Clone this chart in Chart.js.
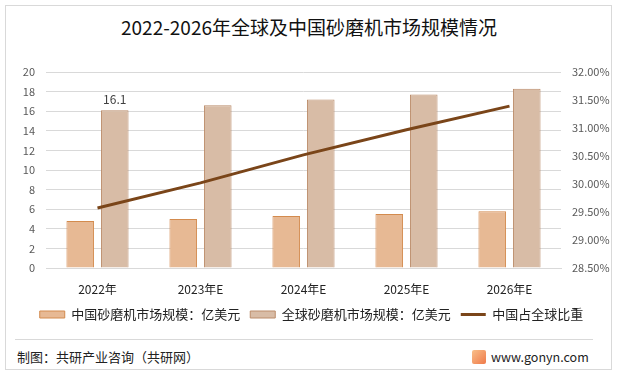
<!DOCTYPE html>
<html>
<head>
<meta charset="utf-8">
<script src="https://cdn.jsdelivr.net/npm/chart.js@4/dist/chart.umd.min.js"></script>
<style>
  body { margin: 0; background: #fff; font-family: "Noto Sans CJK SC", "Noto Sans", sans-serif; }
  #wrap { position: relative; width: 618px; height: 375px; overflow: hidden; }
  #frame { position: absolute; left: 5px; top: 5px; width: 605px; height: 363px; border: 1px solid #d9d9d9; }
  #title { position: absolute; left: 0; width: 618px; top: 13px; text-align: center; font-size: 19px; color: #111; }
  #sep { position: absolute; left: 15px; width: 578px; top: 339px; border-top: 1px solid #d9d9d9; }
  #source { position: absolute; left: 17px; top: 347px; font-size: 13px; color: #222; }
  #site { position: absolute; left: 472px; top: 347px; font-size: 12.5px; color: #222; }
  #logo { display: inline-block; width: 14px; height: 14px; vertical-align: -2px; margin-right: 5px;
          background: linear-gradient(135deg, #f9c08a, #ef7a4a); border-radius: 2px; }
  canvas { position: absolute; left: 0; top: 0; }
</style>
</head>
<body>
<div id="wrap">
  <div id="frame"></div>
  <div id="title">2022-2026年全球及中国砂磨机市场规模情况</div>
  <canvas id="grafico" width="618" height="340"></canvas>
  <div id="sep"></div>
  <div id="source">制图：共研产业咨询（共研网）</div>
  <div id="site"><span id="logo"></span>www.gonyn.com</div>
</div>
<script>
// dados
const anos = ['2022年', '2023年E', '2024年E', '2025年E', '2026年E'];
const mercadoChina = [4.8, 5.0, 5.3, 5.5, 5.8];
const mercadoGlobal = [16.1, 16.6, 17.2, 17.7, 18.3];
const participacao = [29.57, 30.02, 30.52, 30.97, 31.39];
const nomes = ['中国砂磨机市场规模：亿美元', '全球砂磨机市场规模：亿美元', '中国占全球比重'];

const fonte = '"Noto Sans CJK SC", "Noto Sans", sans-serif';

// rotulo so no primeiro bar global
const rotulo = {
    id: 'rotulo',
    afterDatasetsDraw(chart) {
        const ctx = chart.ctx;
        const bar = chart.getDatasetMeta(1).data[0];
        ctx.save();
        ctx.font = '12px ' + fonte;
        ctx.fillStyle = '#404040';
        ctx.textAlign = 'center';
        ctx.textBaseline = 'bottom';
        ctx.fillText(mercadoGlobal[0].toFixed(1), bar.x, bar.y - 5);
        ctx.restore();
    }
};

const ctx = document.getElementById('grafico');
new Chart(ctx, {
    type: 'bar',
    data: {
        labels: anos,
        datasets: [
            {
                label: nomes[0],
                data: mercadoChina,
                backgroundColor: '#e7b994',
                borderColor: '#d38b4e',
                borderWidth: 1,
                pointStyle: 'rect',
                yAxisID: 'y',
                order: 1
            },
            {
                label: nomes[1],
                data: mercadoGlobal,
                backgroundColor: '#d8bca6',
                borderColor: '#bb8c6a',
                borderWidth: 1,
                pointStyle: 'rect',
                yAxisID: 'y',
                order: 1
            },
            {
                type: 'line',
                label: nomes[2],
                data: participacao,
                borderColor: '#7a4519',
                backgroundColor: '#7a4519',
                borderWidth: 3,
                pointRadius: 0,
                pointStyle: 'line',
                pointBorderColor: '#7a4519',
                pointBorderWidth: 3,
                tension: 0,
                yAxisID: 'y1',
                order: 0
            }
        ]
    },
    options: {
        responsive: false,
        animation: false,
        datasets: {
            bar: { categoryPercentage: 0.67, barPercentage: 0.8 }
        },
        layout: { padding: { top: 72, left: 13, right: 8, bottom: 9 } },
        plugins: {
            title: { display: false },
            tooltip: { enabled: false },
            legend: {
                position: 'bottom',
                labels: {
                    usePointStyle: true,
                    pointStyleWidth: 25,
                    boxHeight: 7,
                    padding: 10,
                    color: '#222',
                    font: { family: fonte, size: 13 },
                    sort: (a, b) => a.datasetIndex - b.datasetIndex
                }
            }
        },
        scales: {
            x: {
                grid: { display: false, drawTicks: false },
                border: { color: '#d9d9d9' },
                ticks: { color: '#222', padding: 14, font: { family: fonte, size: 12 } },
                afterFit(s) { s.height = 30; }
            },
            y: {
                position: 'left',
                min: 0,
                max: 20,
                ticks: { stepSize: 2, color: '#595959', padding: 11, font: { family: fonte, size: 11 } },
                grid: { color: '#d9d9d9', drawTicks: false },
                border: { display: false },
                afterFit(s) { s.width = 33; }
            },
            y1: {
                position: 'right',
                min: 28.5,
                max: 32,
                ticks: {
                    stepSize: 0.5,
                    color: '#595959',
                    padding: 11,
                    font: { family: fonte, size: 11 },
                    callback: (v) => v.toFixed(2) + '%'
                },
                grid: { drawOnChartArea: false, drawTicks: false },
                border: { display: false },
                afterFit(s) { s.width = 49; }
            }
        }
    },
    plugins: [rotulo]
});
</script>
</body>
</html>
